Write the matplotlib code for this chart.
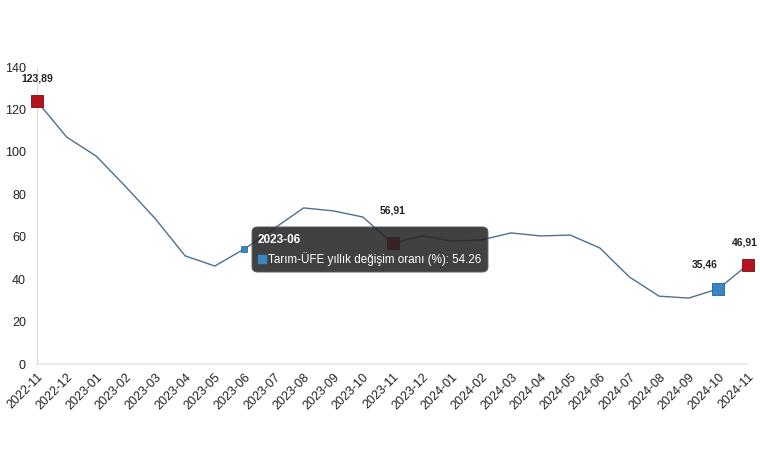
import matplotlib.pyplot as plt
from matplotlib.patches import FancyBboxPatch

plt.rcParams['font.family'] = ['Liberation Sans', 'DejaVu Sans']

months = ['2022-11', '2022-12', '2023-01', '2023-02', '2023-03', '2023-04', '2023-05',
          '2023-06', '2023-07', '2023-08', '2023-09', '2023-10', '2023-11', '2023-12',
          '2024-01', '2024-02', '2024-03', '2024-04', '2024-05', '2024-06', '2024-07',
          '2024-08', '2024-09', '2024-10', '2024-11']
values = [123.89, 107.0, 98.0, 83.5, 68.4, 51.0, 46.2,
          54.26, 63.9, 73.6, 72.2, 69.3, 56.91, 60.4,
          58.0, 58.5, 61.8, 60.4, 60.8, 54.7, 41.0,
          32.0, 31.1, 35.46, 46.91]

# highlighted points
red_idx = [0, 12, 24]
blue_idx = [23]
labels = {0: '123,89', 12: '56,91', 23: '35,46', 24: '46,91'}
hover_idx = 7
hover_title = '2023-06'
hover_text = 'Tarım-ÜFE yıllık değişim oranı (%): 54.26'

line_col = '#4f6f8f'
red = '#b5121b'
blue = '#3a85c4'

fig = plt.figure(figsize=(7.6, 4.5), dpi=100)
ax = fig.add_axes([0.0487, 0.191, 0.9355, 0.66])
x = list(range(len(months)))

ax.plot(x, values, color=line_col, lw=1.0, zorder=2, clip_on=False)
for i in red_idx:
    ax.plot(x[i], values[i], 's', ms=9, mfc=red, mec='#7a0c10', mew=0.6, zorder=3, clip_on=False)
for i in blue_idx:
    ax.plot(x[i], values[i], 's', ms=9, mfc=blue, mec='#2a5f8c', mew=0.6, zorder=3, clip_on=False)
ax.plot(x[hover_idx], values[hover_idx], 's', ms=5, mfc=blue, mec='#2a5f8c', mew=0.5, zorder=3)

# label offsets in data units (dx, dy)
offsets = {0: (0, 1), 12: (0, 6), 23: (-0.45, 2), 24: (-0.1, 1)}
for i, t in labels.items():
    dx, dy = offsets[i]
    ax.annotate(t, (x[i] + dx, values[i] + dy), xytext=(0, 11), textcoords='offset points',
                ha='center', va='bottom', fontsize=7.5, fontweight='bold', color='#222222',
                zorder=4, annotation_clip=False)

# tooltip
box = FancyBboxPatch((7.26, 43.4), 7.96, 21.2, boxstyle='round,pad=0,rounding_size=0.2',
                     transform=ax.transData, fc='#262626', ec='#555555', lw=0.8,
                     alpha=0.88, zorder=5, mutation_aspect=12)
ax.add_patch(box)
ax.text(7.45, 58.4, hover_title, color='white', fontsize=8.5, fontweight='bold',
        va='center', ha='left', zorder=6)
ax.plot(7.6, 49.4, 's', ms=6, mfc=blue, mec=blue, zorder=6)
ax.text(7.8, 49.4, hover_text, color='white', fontsize=8.4, va='center', ha='left', zorder=6)

ax.set_xlim(0, 24)
ax.set_ylim(0, 140)
ax.set_yticks(range(0, 141, 20))
ax.set_xticks(x)
ax.set_xticklabels(months, rotation=45, ha='right', va='top', rotation_mode='anchor', fontsize=9)
ax.tick_params(axis='both', length=0, colors='#222222')
ax.tick_params(axis='y', pad=8, labelsize=9)
ax.tick_params(axis='x', pad=5)
for s in ['top', 'right']:
    ax.spines[s].set_visible(False)
ax.spines['left'].set_color('#dddddd')
ax.spines['bottom'].set_color('#e6e6e6')
ax.spines['bottom'].set_linewidth(1.2)

fig.savefig('out.png', dpi=100)
